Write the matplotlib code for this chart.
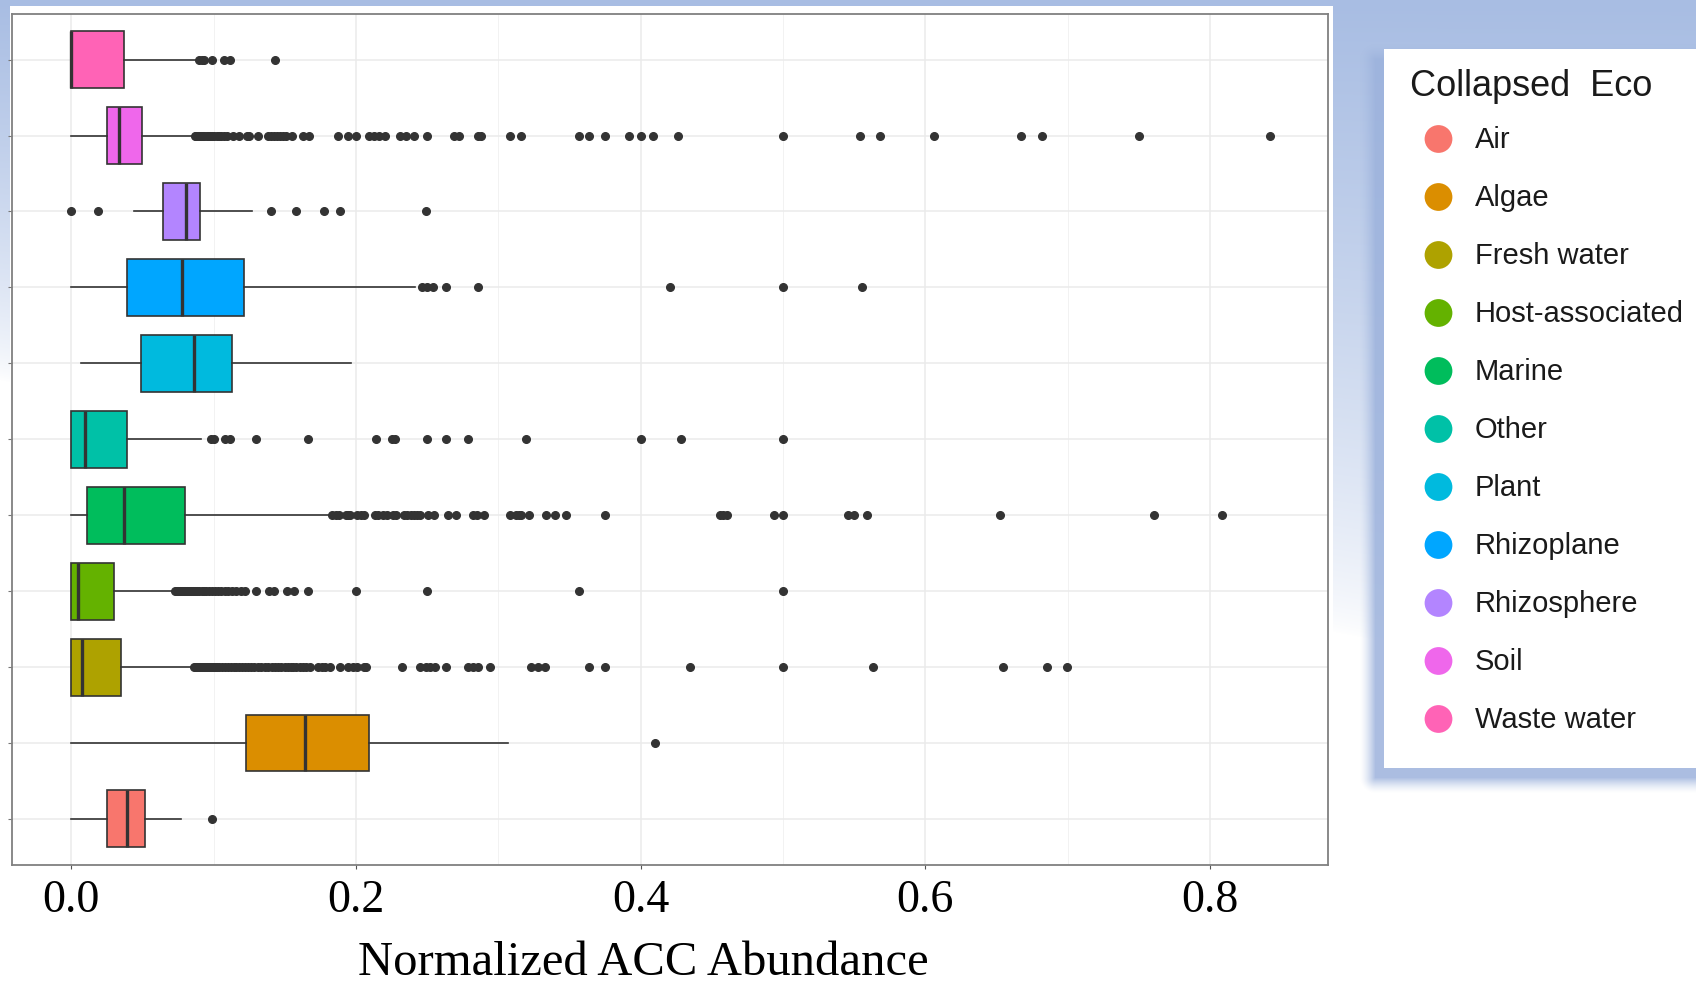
import numpy as np
import matplotlib
matplotlib.use("Agg")
import matplotlib.pyplot as plt
from matplotlib.patches import Rectangle

# categories bottom -> top (ggplot factor order after coord_flip)
categories = ["Air", "Algae", "Fresh water", "Host-associated", "Marine", "Other",
              "Plant", "Rhizoplane", "Rhizosphere", "Soil", "Waste water"]
palette = ["#F8766D", "#DB8E00", "#AEA200", "#64B200", "#00BD5C", "#00C1A7",
           "#00BADE", "#00A6FF", "#B385FF", "#EF67EB", "#FF63B6"]

# box statistics
q1 = [0.0251, 0.123, 0.0, 0.0, 0.011, 0.0, 0.049, 0.0392, 0.0643, 0.0248, 0.0]
med = [0.0392, 0.1644, 0.0078, 0.0047, 0.0367, 0.0097, 0.086, 0.0775, 0.0806, 0.0333, 0.0]
q3 = [0.052, 0.209, 0.0348, 0.0298, 0.0797, 0.0389, 0.1126, 0.1211, 0.0907, 0.0499, 0.0367]
whislo = [0.0, 0.0, 0.0, 0.0, 0.0, 0.0, 0.0066, 0.0, 0.0439, 0.0, 0.0]
whishi = [0.0769, 0.3068, 0.0853, 0.0722, 0.1826, 0.091, 0.1964, 0.2416, 0.127, 0.0863, 0.0894]

air_out = [0.0985]
algae_out = [0.410]
fresh_out = [0.0865, 0.0875, 0.0885, 0.0895, 0.0905, 0.092, 0.093, 0.094, 0.0955, 0.097,
             0.098, 0.0995, 0.101, 0.1025, 0.104, 0.106, 0.108, 0.110, 0.112, 0.114,
             0.116, 0.118, 0.120, 0.122, 0.124, 0.126, 0.128, 0.131, 0.133, 0.136,
             0.138, 0.141, 0.143, 0.145, 0.147, 0.150, 0.152, 0.154, 0.156, 0.158,
             0.161, 0.163, 0.165, 0.168, 0.173, 0.176, 0.178, 0.182, 0.189, 0.1945,
             0.198, 0.201, 0.2055, 0.207, 0.232, 0.2453, 0.249, 0.252, 0.2557, 0.2635,
             0.2786, 0.2824, 0.286, 0.294, 0.323, 0.328, 0.333, 0.364, 0.375, 0.435,
             0.500, 0.5635, 0.6547, 0.6855, 0.6996]
host_out = [0.073, 0.074, 0.075, 0.0765, 0.078, 0.079, 0.080, 0.0815, 0.083, 0.084,
            0.0855, 0.087, 0.0885, 0.090, 0.0915, 0.093, 0.0945, 0.097, 0.099, 0.101,
            0.103, 0.105, 0.108, 0.110, 0.113, 0.116, 0.119, 0.122, 0.130, 0.1387,
            0.1427, 0.1515, 0.1562, 0.1666, 0.200, 0.250, 0.357, 0.500]
marine_out = [0.1835, 0.1857, 0.1882, 0.1929, 0.1945, 0.1955, 0.2008, 0.2033, 0.2055, 0.2133,
              0.2158, 0.219, 0.2221, 0.2259, 0.2284, 0.2337, 0.2359, 0.2384, 0.2409, 0.2431,
              0.2453, 0.2504, 0.2547, 0.2645, 0.2704, 0.2824, 0.2849, 0.2902, 0.3081, 0.3122,
              0.3144, 0.3162, 0.3216, 0.3332, 0.3398, 0.3473, 0.3749, 0.4556, 0.458, 0.461,
              0.494, 0.500, 0.5459, 0.5496, 0.559, 0.6526, 0.761, 0.8082]
other_out = [0.098, 0.100, 0.108, 0.1114, 0.1296, 0.1666, 0.2143, 0.2255, 0.2275, 0.250,
             0.2632, 0.2789, 0.3194, 0.400, 0.4282, 0.500]
plant_out = []
rhizoplane_out = [0.2466, 0.2497, 0.254, 0.2632, 0.2857, 0.4207, 0.500, 0.5556]
rhizosphere_out = [0.0, 0.019, 0.140, 0.158, 0.1776, 0.1886, 0.249]
soil_out = [0.0868, 0.0878, 0.0888, 0.0898, 0.091, 0.0922, 0.0935, 0.095, 0.0962, 0.0975,
            0.099, 0.1005, 0.102, 0.1035, 0.105, 0.107, 0.1095, 0.1133, 0.1176, 0.1233,
            0.1245, 0.131, 0.138, 0.140, 0.1425, 0.1445, 0.1465, 0.149, 0.1505, 0.1553,
            0.163, 0.167, 0.1876, 0.1945, 0.1998, 0.2089, 0.2127, 0.2165, 0.2202, 0.2306,
            0.2353, 0.2406, 0.250, 0.2692, 0.2723, 0.2855, 0.288, 0.308, 0.316, 0.357,
            0.364, 0.375, 0.392, 0.400, 0.409, 0.426, 0.500, 0.554, 0.568, 0.606,
            0.667, 0.682, 0.750, 0.842]
waste_out = [0.090, 0.0915, 0.093, 0.0985, 0.1076, 0.1114, 0.143]

outliers = [air_out, algae_out, fresh_out, host_out, marine_out, other_out,
            plant_out, rhizoplane_out, rhizosphere_out, soil_out, waste_out]

xticks = [0.0, 0.2, 0.4, 0.6, 0.8]
xtick_labels = ["0.0", "0.2", "0.4", "0.6", "0.8"]

W, H = 1696, 986
fig = plt.figure(figsize=(W / 100, H / 100), dpi=100)

# slide background drawn in pixel coordinates
bg = fig.add_axes([0, 0, 1, 1], zorder=0)
bg.set_xlim(0, W)
bg.set_ylim(H, 0)
bg.axis("off")
yy, xx = np.mgrid[0:H, 0:W]
t = np.clip(1 - yy / (380 + 320 * xx / W), 0, 1) ** 0.7
blue = np.array([0xa8, 0xbd, 0xe3]) / 255
img = (1 - t[..., None]) * 1.0 + t[..., None] * blue
bg.imshow(img, extent=[0, W, H, 0], aspect="auto", zorder=0)

# white ggplot image pasted on the slide
bg.add_patch(Rectangle((10, 6), 1323, H, facecolor="white", edgecolor="none", zorder=1))

# legend box with a soft shadow (offset left / down, blurred)
lx, ly, lh = 1384, 49, 719
sx0, sy0, sy1 = lx - 9, ly + 10, ly + lh + 9
dx = np.clip(sx0 - xx, 0, None)
dy = np.clip(yy - sy1, 0, None) + np.clip(sy0 - yy, 0, None)
dist = np.hypot(dx, dy)
sh = np.zeros((H, W, 4))
sh[..., :3] = np.array([0x9c, 0xb2, 0xdc]) / 255
sh[..., 3] = np.clip(1 - dist / 16, 0, 1) ** 1.5 * 0.85
bg.imshow(sh, extent=[0, W, H, 0], aspect="auto", zorder=2)
bg.add_patch(Rectangle((lx, ly), W, lh, facecolor="white", edgecolor="none", zorder=3))
bg.text(1410, 86, "Collapsed  Eco", fontsize=26, family="Liberation Sans",
        color="#1a1a1a", va="center", ha="left", zorder=4)
row_y = [139 + 58.0 * i for i in range(len(categories))]
bg.scatter([1438.5] * len(categories), row_y, s=400, c=palette, edgecolors="none", zorder=4)
for yv, name in zip(row_y, categories):
    bg.text(1475, yv + 1, name, fontsize=21, family="Liberation Sans",
            color="#1a1a1a", va="center", ha="left", zorder=4)

# main panel
ax = fig.add_axes([12 / W, 1 - 864.5 / H, 1316 / W, 850.5 / H], zorder=2)
ax.set_facecolor("white")

stats = []
for i in range(len(categories)):
    stats.append(dict(med=med[i], q1=q1[i], q3=q3[i], whislo=whislo[i],
                      whishi=whishi[i], fliers=outliers[i]))

pos = list(range(1, len(categories) + 1))
bp = ax.bxp(stats, positions=pos, widths=0.75, orientation="horizontal",
            patch_artist=True, showcaps=False,
            boxprops=dict(edgecolor="#333333", linewidth=1.2),
            medianprops=dict(color="#333333", linewidth=2.4),
            whiskerprops=dict(color="#333333", linewidth=1.2),
            flierprops=dict(marker="o", markerfacecolor="#333333",
                            markeredgecolor="#333333", markersize=5.5))
for box, col in zip(bp["boxes"], palette):
    box.set_facecolor(col)

ax.set_xlim(-0.0417, 0.883)
ax.set_ylim(0.4, 11.6)
ax.set_xticks(xticks)
ax.set_xticklabels(xtick_labels, family="Liberation Serif", fontsize=33)
ax.set_xticks([0.1, 0.3, 0.5, 0.7], minor=True)
ax.set_yticks(pos)
ax.set_yticklabels([])
ax.tick_params(axis="x", which="major", length=3, color="#555555", pad=8)
ax.tick_params(axis="x", which="minor", length=0)
ax.tick_params(axis="y", length=3, color="#777777")
ax.grid(which="major", color="#EBEBEB", linewidth=1.1)
ax.grid(which="minor", axis="x", color="#F2F2F2", linewidth=0.7)
ax.set_axisbelow(True)
for sp in ax.spines.values():
    sp.set_color("#808080")
    sp.set_linewidth(1.3)

fig.text(643.7 / W, 1 / H, "Normalized ACC Abundance", family="Liberation Serif",
         fontsize=35, ha="center", va="bottom")

fig.savefig("out.png", dpi=100)
